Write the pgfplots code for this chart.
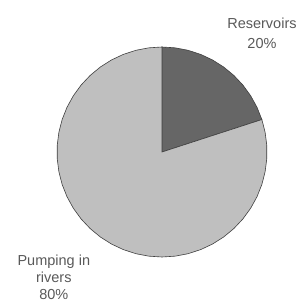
\documentclass[border=0pt]{standalone}
\usepackage{pgfplots}
\pgfplotsset{compat=1.18}
\usepackage{fontspec}
\setmainfont{Liberation Sans}
\definecolor{darkslice}{gray}{0.40}
\definecolor{lightslice}{gray}{0.75}
\definecolor{labelgray}{gray}{0.35}
\begin{document}
\begin{tikzpicture}
\useasboundingbox (-162pt,-152pt) rectangle (142pt,152pt);
\begin{axis}[
  at={(0,0)}, anchor=center,
  width=210pt, height=210pt, scale only axis,
  xmin=-1, xmax=1, ymin=-1, ymax=1,
  hide axis, clip=false,
]
% Reservoirs 20% : from 90 deg clockwise to 18 deg
\addplot[data cs=polar, draw=black!75, line width=0.6pt, fill=darkslice]
  coordinates {(0,0) (18,1) (25.2,1) (32.4,1) (39.6,1) (46.8,1) (54,1) (61.2,1) (68.4,1) (75.6,1) (82.8,1) (90,1) (0,0)} -- cycle;
% Pumping in rivers 80%
\addplot[data cs=polar, draw=black!75, line width=0.6pt, fill=lightslice]
  coordinates {(0,0) (90,1) (97.2,1) (104.4,1) (111.6,1) (118.8,1) (126,1) (133.2,1) (140.4,1) (147.6,1) (154.8,1) (162,1) (169.2,1) (176.4,1) (183.6,1) (190.8,1) (198,1) (205.2,1) (212.4,1) (219.6,1) (226.8,1) (234,1) (241.2,1) (248.4,1) (255.6,1) (262.8,1) (270,1) (277.2,1) (284.4,1) (291.6,1) (298.8,1) (306,1) (313.2,1) (320.4,1) (327.6,1) (334.8,1) (342,1) (349.2,1) (356.4,1) (363.6,1) (370.8,1) (378,1) (0,0)} -- cycle;
\node[align=center, text=labelgray, font=\fontsize{14.5}{20}\selectfont] at (axis cs:0.952,1.133) {Reservoirs\\20\%};
\node[align=center, text=labelgray, font=\fontsize{14.5}{17}\selectfont, inner sep=1pt] at (axis cs:-1.03,-1.19) {Pumping in\\rivers\\80\%};
\end{axis}
\end{tikzpicture}
\end{document}
